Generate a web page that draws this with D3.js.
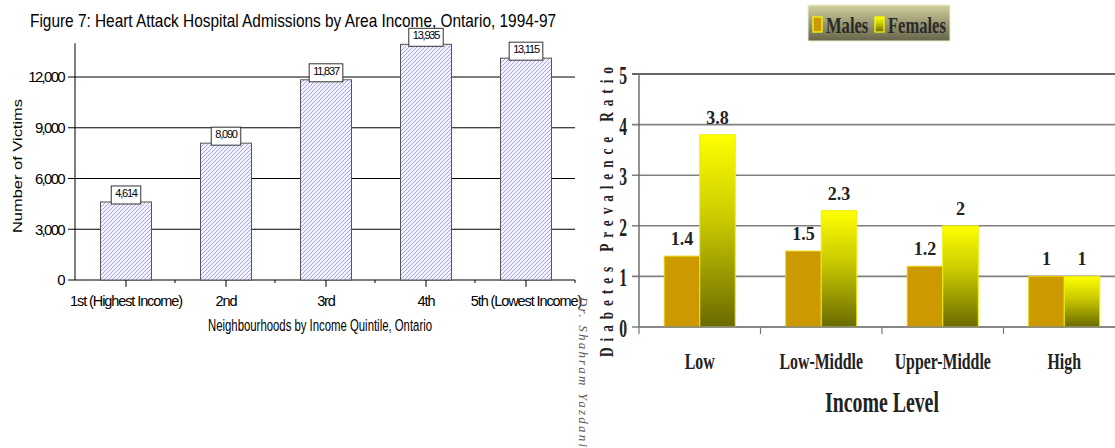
<!DOCTYPE html>
<html>
<head>
<meta charset="utf-8">
<script src="https://cdn.jsdelivr.net/npm/d3@7"></script>
<style>
  html, body { margin: 0; padding: 0; background: #fff; }
  svg { display: block; }
</style>
</head>
<body>
<svg id="chart" width="1115" height="448"></svg>
<script>
// ---- Figure 7: heart attack admissions by income quintile ----
const quintiles = ["1st (Highest Income)", "2nd", "3rd", "4th", "5th (Lowest Income)"];
const admissions = [4614, 8090, 11837, 13935, 13115];
const admissionTicks = [0, 3000, 6000, 9000, 12000];

// ---- Diabetes prevalence ratio by income level ----
const incomeLevels = ["Low", "Low-Middle", "Upper-Middle", "High"];
const sexes = ["Males", "Females"];
const malesRatio = [1.4, 1.5, 1.2, 1];
const femalesRatio = [3.8, 2.3, 2, 1];
const ratioTicks = [0, 1, 2, 3, 4, 5];

const svg = d3.select("#chart");
const defs = svg.append("defs");

// diagonal hatch for the admission bars
const hatch = defs.append("pattern")
  .attr("id", "hatch").attr("patternUnits", "userSpaceOnUse")
  .attr("width", 4).attr("height", 4);
hatch.append("rect").attr("width", 4).attr("height", 4).attr("fill", "#f3f3ff");
hatch.append("path").attr("d", "M-1,1 l2,-2 M0,4 l4,-4 M3,5 l2,-2")
  .attr("stroke", "#9d9df2").attr("stroke-width", 0.9);

// yellow-to-olive fill for female bars
const fg = defs.append("linearGradient").attr("id", "femGrad")
  .attr("x1", 0).attr("y1", 0).attr("x2", 0).attr("y2", 1);
fg.append("stop").attr("offset", "0%").attr("stop-color", "#ffff00");
fg.append("stop").attr("offset", "45%").attr("stop-color", "#c8c800");
fg.append("stop").attr("offset", "100%").attr("stop-color", "#6a6a00");

// legend background
const lg = defs.append("linearGradient").attr("id", "legGrad")
  .attr("x1", 0).attr("y1", 0).attr("x2", 0).attr("y2", 1);
lg.append("stop").attr("offset", "0%").attr("stop-color", "#d2d09c");
lg.append("stop").attr("offset", "100%").attr("stop-color", "#65644a");

// condensed text helper
function ctext(parent, x, y, str, sx, attrs) {
  const g = parent.append("g").attr("transform", `translate(${x},${y}) scale(${sx},1)`);
  const t = g.append("text").text(str);
  Object.entries(attrs).forEach(([k, v]) => t.attr(k, v));
  return t;
}

// ================= Left chart =================
const L = svg.append("g").attr("font-family", "'Liberation Sans', Arial, sans-serif").attr("fill", "#000");

const xL = d3.scaleBand().domain(quintiles).range([76, 576]).paddingInner(0.49).paddingOuter(0.245);
const yL = d3.scaleLinear().domain([0, 14000]).range([280, 43.2]);

// title
L.append("text").attr("x", 30).attr("y", 27)
  .attr("font-size", 18.5).attr("textLength", 526).attr("lengthAdjust", "spacingAndGlyphs")
  .text("Figure 7: Heart Attack Hospital Admissions by Area Income, Ontario, 1994-97");

// gridlines + y ticks
admissionTicks.forEach(v => {
  L.append("line").attr("x1", 68).attr("x2", v === 0 ? 75 : 575)
    .attr("y1", yL(v)).attr("y2", yL(v)).attr("stroke", "#000").attr("stroke-width", 1);
  L.append("text").attr("x", 64).attr("y", yL(v)).attr("dy", "0.36em")
    .attr("text-anchor", "end").attr("font-size", 15).attr("letter-spacing", -1.7)
    .text(d3.format(",")(v));
});

// axes
L.append("line").attr("x1", 75).attr("x2", 75).attr("y1", yL(14000)).attr("y2", 280)
  .attr("stroke", "#000");
L.append("line").attr("x1", 75).attr("x2", 575).attr("y1", 280).attr("y2", 280)
  .attr("stroke", "#000");

// bars
L.selectAll("rect.bar").data(admissions).join("rect").attr("class", "bar")
  .attr("x", (d, i) => xL(quintiles[i]))
  .attr("y", d => yL(d))
  .attr("width", xL.bandwidth())
  .attr("height", d => yL(0) - yL(d))
  .attr("fill", "url(#hatch)").attr("stroke", "#555").attr("stroke-width", 1);

// x ticks: long at category centres, short at boundaries
quintiles.forEach((q, i) => {
  const cx = xL(q) + xL.bandwidth() / 2;
  L.append("line").attr("x1", cx).attr("x2", cx).attr("y1", 280).attr("y2", 287).attr("stroke", "#000");
  const bx = 75 + (i + 1) * xL.step();
  L.append("line").attr("x1", bx).attr("x2", bx).attr("y1", 280).attr("y2", 283).attr("stroke", "#000");
  L.append("text").attr("x", cx).attr("y", 306).attr("text-anchor", "middle")
    .attr("font-size", 14.5).attr("letter-spacing", -1.1).text(q);
});

// x axis title
L.append("text").attr("x", 208).attr("y", 331)
  .attr("font-size", 16).attr("textLength", 224).attr("lengthAdjust", "spacingAndGlyphs")
  .text("Neighbourhoods by Income Quintile, Ontario");

// y axis title
L.append("text").attr("transform", "translate(22,166) rotate(-90)")
  .attr("text-anchor", "middle").attr("font-size", 12.5)
  .attr("textLength", 134).attr("lengthAdjust", "spacingAndGlyphs")
  .text("Number of Victims");

// value boxes
admissions.forEach((v, i) => {
  const cx = xL(quintiles[i]) + xL.bandwidth() / 2;
  const top = yL(v);
  const g = L.append("g");
  const box = g.append("rect");
  const t = g.append("text").attr("x", cx).attr("y", top - 5)
    .attr("text-anchor", "middle").attr("font-size", 11).attr("letter-spacing", -1.2)
    .text(d3.format(",")(v));
  const w = t.node().getComputedTextLength() + 8;
  box.attr("x", cx - w / 2).attr("y", top - 16).attr("width", w).attr("height", 18)
    .attr("fill", "#fff").attr("stroke", "#333").attr("stroke-width", 1);
});

// ================= Right chart =================
const R = svg.append("g").attr("font-family", "'Liberation Serif', 'Times New Roman', serif")
  .attr("font-weight", "bold").attr("fill", "#222");

const xR = d3.scaleBand().domain(incomeLevels).range([639, 1125]);
const xSex = d3.scaleBand().domain(sexes).range([0, xR.bandwidth()]).paddingInner(0).paddingOuter(0.711);
const yR = d3.scaleLinear().domain([0, 5]).range([327, 74]);

// gridlines and y labels
ratioTicks.forEach(v => {
  R.append("line").attr("x1", 632).attr("x2", 1115).attr("y1", yR(v)).attr("y2", yR(v))
    .attr("stroke", v === 5 ? "#333" : "#808080").attr("stroke-width", 1.6);
  ctext(R, 627, yR(v) + 10, String(v), 0.6, { "font-size": 26, "text-anchor": "end" });
});

// axes
R.append("line").attr("x1", 639).attr("x2", 639).attr("y1", yR(5)).attr("y2", 327)
  .attr("stroke", "#666").attr("stroke-width", 1.4);
incomeLevels.forEach(c => {
  R.append("line").attr("x1", xR(c)).attr("x2", xR(c)).attr("y1", 327).attr("y2", 334)
    .attr("stroke", "#777").attr("stroke-width", 1.2);
});

// bars
const series = [malesRatio, femalesRatio];
sexes.forEach((s, si) => {
  R.selectAll(null).data(series[si]).join("rect")
    .attr("x", (d, i) => xR(incomeLevels[i]) + xSex(s))
    .attr("y", d => yR(d))
    .attr("width", xSex.bandwidth())
    .attr("height", d => yR(0) - yR(d))
    .attr("fill", si === 0 ? "#cc9900" : "url(#femGrad)")
    .attr("stroke", si === 0 ? "#e6d000" : "#eeee10").attr("stroke-width", 1);
  series[si].forEach((d, i) => {
    R.append("text").attr("x", xR(incomeLevels[i]) + xSex(s) + xSex.bandwidth() / 2)
      .attr("y", yR(d) - 11).attr("text-anchor", "middle").attr("font-size", 18)
      .text(d);
  });
});

// re-draw the baseline over the bar bottoms
R.append("line").attr("x1", 639).attr("x2", 1115).attr("y1", 327).attr("y2", 327)
  .attr("stroke", "#808080").attr("stroke-width", 1.6);

// category labels
incomeLevels.forEach(c => {
  ctext(R, xR(c) + xR.bandwidth() / 2, 369, c, 0.66, { "font-size": 24, "text-anchor": "middle" });
});

// x axis title
ctext(R, 882, 412, "Income Level", 0.66, { "font-size": 30, "text-anchor": "middle" });

// y axis title
R.append("g").attr("transform", "translate(613,212) rotate(-90) scale(0.7,1)")
  .append("text").attr("text-anchor", "middle").attr("font-size", 19)
  .attr("textLength", 414).attr("lengthAdjust", "spacing")
  .text("Diabetes Prevalence Ratio");

// legend
const leg = R.append("g");
leg.append("rect").attr("x", 808).attr("y", 5).attr("width", 142).attr("height", 36)
  .attr("fill", "url(#legGrad)").attr("stroke", "#eeeed0").attr("stroke-width", 1);
leg.append("rect").attr("x", 813).attr("y", 17).attr("width", 9).attr("height", 15)
  .attr("fill", "#cc9900").attr("stroke", "#ffff00").attr("stroke-width", 1.2);
ctext(leg, 826, 33, sexes[0], 0.72, { "font-size": 23, "fill": "#2a2a2a" });
leg.append("rect").attr("x", 875).attr("y", 17).attr("width", 9).attr("height", 15)
  .attr("fill", "url(#femGrad)").attr("stroke", "#ffff00").attr("stroke-width", 1.2);
ctext(leg, 888, 33, sexes[1], 0.72, { "font-size": 23, "fill": "#2a2a2a" });

// author credit, running down the page
svg.append("text").attr("transform", "translate(579,297) rotate(90)")
  .attr("font-family", "'Liberation Serif', 'Times New Roman', serif")
  .attr("font-style", "italic").attr("font-size", 13).attr("fill", "#555")
  .attr("textLength", 150).attr("lengthAdjust", "spacing")
  .text("Dr. Shahram Yazdani");
</script>
</body>
</html>
